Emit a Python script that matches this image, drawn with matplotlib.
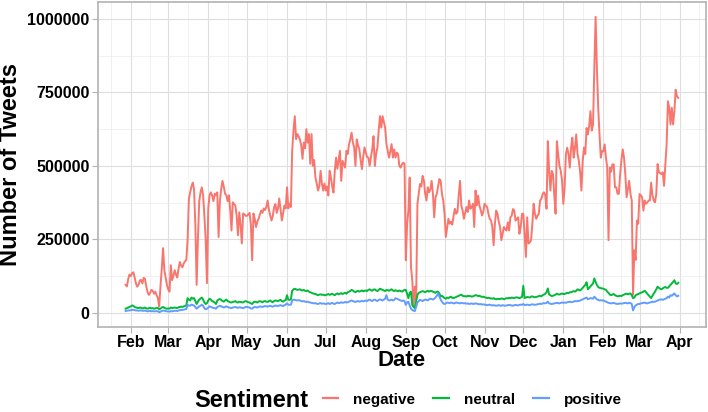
import numpy as np
import pandas as pd
import matplotlib
matplotlib.use('Agg')
import matplotlib.pyplot as plt
import matplotlib.dates as mdates
from matplotlib.ticker import FuncFormatter, MultipleLocator
from matplotlib.lines import Line2D

plt.rcParams['font.family'] = ['Liberation Sans', 'DejaVu Sans']
plt.rcParams['font.weight'] = 'bold'

# daily tweet counts in thousands, 2020-01-28 .. 2021-03-31
dates = pd.date_range('2020-01-28', '2021-03-31', freq='D')

negative = [
    # Jan 28-31
    95, 90, 115, 130,
    # Feb 2020
    125, 135, 138, 120, 100, 89, 95, 110, 112, 100, 119, 115, 90, 70, 61, 68, 78, 75, 65, 72,
    60, 50, 21, 90, 150, 220, 145, 120, 95,
    # Mar
    80, 72, 162, 111, 125, 145, 130, 120, 150, 173, 160, 155, 168, 175, 180, 247, 388, 410, 430, 443,
    420, 300, 95, 250, 380, 410, 427, 400, 330, 250, 101,
    # Apr
    355, 399, 410, 399, 380, 405, 400, 410, 258, 380, 420, 449, 430, 405, 400, 380, 400, 350, 280, 376,
    370, 365, 330, 264, 342, 300, 236, 338, 335, 330,
    # May
    330, 335, 340, 300, 179, 338, 320, 292, 310, 320, 335, 348, 340, 355, 350, 360, 382, 350, 331, 314,
    330, 360, 370, 340, 355, 389, 350, 314, 340, 365, 355,
    # Jun
    427, 355, 372, 360, 551, 620, 669, 591, 608, 600, 590, 570, 524, 579, 560, 625, 579, 608, 507, 608,
    500, 520, 460, 440, 416, 430, 483, 440, 416, 440,
    # Jul
    416, 430, 399, 483, 460, 430, 409, 483, 528, 490, 520, 551, 449, 517, 505, 494, 551, 540, 573, 590,
    613, 580, 562, 500, 590, 570, 557, 520, 489, 530, 563,
    # Aug
    545, 530, 528, 500, 530, 556, 601, 500, 540, 562, 620, 669, 630, 669, 650, 630, 574, 551, 528, 550,
    574, 528, 556, 528, 545, 540, 500, 494, 505, 511, 507,
    # Sep
    179, 300, 348, 460, 156, 111, 21, 89, 44, 371, 405, 438, 430, 466, 450, 405, 382, 427, 410, 420,
    449, 405, 325, 393, 405, 430, 455, 449, 405, 382,
    # Oct
    337, 258, 290, 320, 303, 310, 300, 330, 354, 337, 343, 400, 449, 365, 348, 320, 340, 360, 343, 382,
    354, 360, 371, 292, 416, 365, 399, 365, 350, 331, 343,
    # Nov
    371, 365, 360, 337, 320, 314, 292, 230, 303, 348, 337, 310, 292, 247, 269, 292, 285, 280, 308, 280,
    325, 330, 353, 348, 314, 320, 325, 269, 292, 337,
    # Dec
    337, 269, 190, 325, 236, 240, 247, 303, 371, 337, 320, 330, 337, 382, 388, 404, 410, 400, 354, 584,
    483, 416, 483, 472, 400, 337, 584, 540, 500, 483, 450,
    # Jan 2021
    371, 427, 540, 562, 540, 494, 562, 596, 528, 560, 607, 540, 517, 480, 416, 517, 562, 540, 629, 607,
    635, 686, 620, 640, 832, 1007, 832, 700, 608, 528, 550,
    # Feb
    550, 573, 528, 494, 247, 494, 480, 505, 505, 427, 427, 405, 405, 472, 520, 556, 528, 472, 393, 420,
    449, 405, 382, 61, 213, 180, 314, 303,
    # Mar
    404, 400, 393, 348, 382, 371, 375, 382, 382, 443, 400, 382, 376, 404, 506, 478, 475, 472, 478, 432,
    500, 573, 720, 698, 641, 698, 641, 686, 759, 737, 731,
]

neutral = [
    14, 16, 18, 20,
    22, 25, 24, 20, 18, 17, 16, 18, 17, 15, 16, 18, 15, 14, 16, 17, 15, 16, 14, 15,
    17, 16, 12, 14, 18, 20, 17, 15, 14,
    15, 14, 18, 16, 17, 18, 17, 16, 19, 20, 21, 20, 22, 23, 25, 50, 45, 42, 52, 48,
    50, 40, 30, 38, 45, 48, 52, 45, 35, 30, 33,
    42, 48, 45, 40, 38, 35, 30, 42, 45, 47, 44, 40, 38, 42, 45, 40, 38, 36, 35, 37,
    38, 40, 36, 35, 38, 37, 36, 35, 38, 40,
    38, 36, 35, 32, 30, 36, 38, 37, 35, 38, 40, 38, 36, 39, 40, 38, 37, 40, 42, 38,
    36, 40, 42, 41, 40, 42, 44, 40, 38, 42, 43,
    60, 45, 44, 46, 75, 80, 82, 80, 78, 79, 80, 77, 76, 78, 75, 74, 76, 72, 70, 68,
    66, 65, 64, 62, 60, 62, 63, 61, 62, 60,
    60, 62, 64, 61, 63, 65, 62, 60, 64, 66, 63, 65, 67, 64, 66, 68, 65, 70, 72, 74,
    78, 76, 72, 70, 73, 75, 72, 74, 76, 73, 75,
    76, 74, 78, 80, 77, 75, 79, 80, 76, 74, 78, 82, 80, 78, 76, 74, 78, 77, 75, 78,
    80, 76, 74, 77, 75, 73, 76, 74, 72, 75, 78,
    78, 65, 50, 68, 72, 27, 20, 16, 40, 61, 68, 70, 72, 74, 72, 70, 73, 75, 72, 74,
    74, 72, 70, 68, 72, 72, 66, 55, 58, 54,
    50, 48, 52, 50, 53, 55, 51, 50, 52, 54, 56, 58, 60, 62, 58, 56, 57, 55, 58, 57,
    57, 55, 56, 58, 60, 59, 57, 58, 56, 54, 55,
    53, 52, 50, 51, 50, 49, 48, 50, 47, 46, 48, 47, 47, 49, 48, 46, 48, 50, 49, 51,
    50, 52, 51, 50, 52, 53, 51, 50, 52, 54,
    92, 50, 52, 54, 53, 52, 55, 56, 54, 53, 54, 55, 57, 58, 56, 60, 62, 65, 70, 83,
    62, 60, 57, 58, 60, 62, 65, 63, 62, 64, 66,
    64, 64, 66, 68, 67, 70, 70, 72, 74, 72, 75, 80, 78, 76, 80, 85, 90, 95, 104, 80,
    85, 90, 95, 100, 117, 105, 95, 88, 85, 84, 83,
    82, 80, 78, 72, 68, 62, 60, 62, 64, 60, 58, 56, 57, 58, 57, 60, 62, 64, 65, 63,
    65, 66, 60, 50, 52, 60, 62, 64,
    66, 68, 70, 72, 75, 70, 65, 60, 55, 50, 58, 65, 72, 80, 89, 85, 82, 80, 83, 86,
    88, 85, 85, 90, 95, 100, 105, 111, 100, 98, 102,
]

positive = [
    6, 7, 8, 8,
    9, 10, 10, 9, 8, 8, 7, 8, 8, 7, 7, 8, 6, 5, 6, 7, 5, 6, 5, 5,
    6, 5, 2, 4, 6, 8, 7, 6, 5,
    5, 4, 6, 5, 6, 7, 7, 6, 8, 9, 10, 10, 11, 12, 13, 27, 25, 24, 28, 26,
    25, 20, 14, 18, 22, 24, 28, 24, 16, 12, 14,
    18, 22, 20, 18, 17, 16, 14, 20, 22, 24, 22, 20, 18, 20, 22, 20, 18, 17, 16, 18,
    19, 20, 18, 17, 19, 18, 17, 16, 18, 20,
    20, 19, 18, 15, 14, 18, 20, 19, 18, 20, 22, 21, 20, 22, 23, 22, 21, 23, 24, 22,
    21, 23, 25, 24, 23, 25, 26, 24, 23, 26, 28,
    32, 28, 27, 28, 42, 45, 44, 43, 42, 43, 42, 40, 39, 40, 38, 37, 38, 36, 35, 34,
    33, 32, 33, 31, 30, 32, 33, 31, 32, 31,
    30, 31, 33, 30, 32, 34, 31, 30, 33, 35, 33, 34, 36, 34, 35, 37, 35, 36, 38, 40,
    42, 40, 38, 37, 39, 40, 38, 39, 41, 39, 40,
    42, 40, 43, 45, 42, 40, 44, 45, 42, 40, 44, 46, 44, 42, 45, 48, 60, 45, 42, 43,
    45, 42, 44, 50, 48, 46, 44, 42, 40, 42, 40,
    27, 35, 38, 25, 14, 10, 7, 6, 20, 35, 40, 44, 42, 40, 43, 45, 44, 42, 46, 48,
    47, 45, 48, 52, 58, 66, 55, 45, 38, 32,
    30, 32, 35, 34, 33, 35, 34, 32, 33, 35, 34, 33, 32, 34, 33, 32, 33, 31, 32, 30,
    31, 32, 30, 31, 32, 31, 30, 29, 30, 28, 29,
    28, 27, 26, 27, 28, 26, 25, 26, 25, 24, 25, 26, 25, 24, 26, 25, 24, 25, 26, 27,
    26, 25, 24, 26, 27, 26, 25, 27, 28, 27,
    30, 26, 27, 28, 27, 26, 28, 29, 28, 27, 28, 29, 30, 31, 30, 32, 33, 32, 34, 38,
    32, 31, 30, 31, 32, 33, 34, 33, 32, 34, 35,
    34, 35, 34, 36, 37, 38, 36, 37, 38, 40, 39, 41, 40, 42, 44, 46, 48, 50, 52, 46,
    48, 50, 49, 48, 55, 50, 46, 44, 42, 43, 42,
    42, 40, 38, 36, 34, 33, 32, 33, 34, 32, 31, 30, 31, 32, 31, 32, 33, 34, 33, 32,
    34, 33, 30, 8, 20, 25, 28, 30,
    30, 32, 33, 34, 35, 33, 32, 34, 35, 36, 38, 37, 38, 40, 42, 44, 45, 46, 44, 46,
    48, 50, 55, 52, 60, 58, 62, 66, 60, 56, 58,
]

sentiments = ['negative', 'neutral', 'positive']
colors = ['#F8766D', '#00BA38', '#619CFF']

df = pd.DataFrame({'date': dates,
                   'negative': np.array(negative) * 1000,
                   'neutral': np.array(neutral) * 1000,
                   'positive': np.array(positive) * 1000})

fig = plt.figure(figsize=(7.08, 4.12), dpi=100)
ax = fig.add_axes([0.1384, 0.2063, 0.8586, 0.7887])

for s, c in zip(sentiments, colors):
    ax.plot(df['date'], df[s], color=c, lw=1.4, label=s, solid_joinstyle='round')

# ggplot-like 5% expansion
x0 = mdates.date2num(df['date'].iloc[0])
x1 = mdates.date2num(df['date'].iloc[-1])
ax.set_xlim(x0 - 0.05 * (x1 - x0), x1 + 0.05 * (x1 - x0))
vals = df[sentiments].values
ymin, ymax = vals.min(), vals.max()
ax.set_ylim(ymin - 0.05 * (ymax - ymin), ymax + 0.05 * (ymax - ymin))

# axes
ax.xaxis.set_major_locator(mdates.MonthLocator())
ax.xaxis.set_major_formatter(mdates.DateFormatter('%b'))
month_starts = pd.date_range('2020-01-01', '2021-05-01', freq='MS')
mids = [mdates.date2num(a) + (mdates.date2num(b) - mdates.date2num(a)) / 2
        for a, b in zip(month_starts[:-1], month_starts[1:])]
ax.set_xticks(mids, minor=True)
ax.yaxis.set_major_locator(MultipleLocator(250000))
ax.yaxis.set_minor_locator(MultipleLocator(125000))
ax.yaxis.set_major_formatter(FuncFormatter(lambda v, p: '%d' % v))

ax.grid(which='major', color='#DEDEDE', lw=0.8)
ax.grid(which='minor', color='#EBEBEB', lw=0.5)
ax.set_axisbelow(True)
for sp in ax.spines.values():
    sp.set_color('#B3B3B3')
    sp.set_linewidth(1.2)
ax.tick_params(which='major', length=4, width=0.8, color='#B3B3B3', labelsize=11.5,
               labelcolor='black', pad=2)
ax.tick_params(which='minor', length=0)
for lab in ax.get_xticklabels() + ax.get_yticklabels():
    lab.set_fontweight('bold')

ax.set_xlabel('Date', fontsize=16, fontweight='bold', labelpad=0)
ax.set_ylabel('Number of Tweets', fontsize=17, fontweight='bold', labelpad=4)

# legend at the bottom, title on the left
fig.text(0.275, 0.028, 'Sentiment', fontsize=17, fontweight='bold', va='center', ha='left')
handles = [Line2D([], [], color=c, lw=1.6) for c in colors]
fig.legend(handles, sentiments, loc='center left', bbox_to_anchor=(0.447, 0.03), ncol=3,
           frameon=False, prop={'size': 11, 'weight': 'bold'}, handlelength=1.0,
           handletextpad=1.0, columnspacing=1.2, borderaxespad=0)

fig.savefig('out.png', dpi=100)
